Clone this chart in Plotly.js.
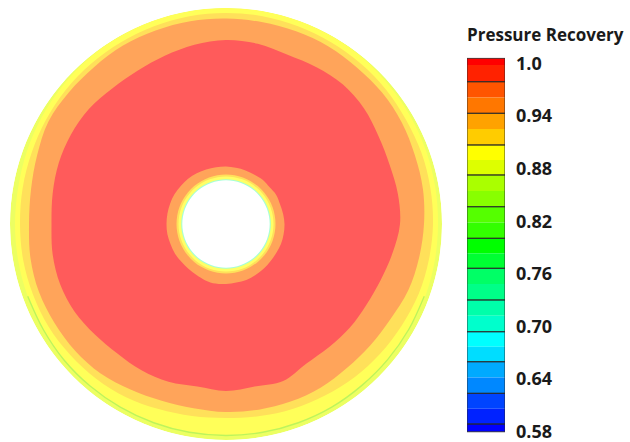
<!DOCTYPE html>
<html>
<head>
<meta charset="utf-8">
<script src="https://cdn.plot.ly/plotly-3.0.1.min.js"></script>
<style>html,body{margin:0;padding:0;background:#fff;}#chart{width:630px;height:442px;}</style>
</head>
<body>
<div id="chart"></div>
<script>
// ---- contour band boundaries on the annulus (angle in degrees, radius in px-units of outer radius 216)
const theta = [0,10,20,30,40,50,60,70,80,90,100,110,120,130,140,150,160,170,180,190,200,210,220,230,240,250,260,270,280,290,300,310,320,330,340,350];
const outerRadius = 216;
const yellowEdge = [212,212.5,213,213.5,214,215,215.5,216,216,216,216,216,215.5,215,214,213,212,211,211,211,211,211,211.5,212,212,212,212,212,212,212,212,211.5,211.5,211.5,212,212];
const goldEdge = [207,207.5,208,208,209,209.5,210,210.5,211,211,211,210.5,210,209.5,209,208,207,206.5,206,206,205.5,205,203.5,202,200,197,195,194,195,196.5,198,200,201.5,203,205,206];
const orangeEdge = [198,200,201,203,204,204,205,205,205,205.5,206,206,206,205,205,205,201,198,197,198.5,199,198,197,195,191,188,187,188,188.5,189,189,188,188.5,190,194,196];
const redEdge = [174,174.5,174,176,180,182,181,180,183,184,182,179,177,177,179,179,178,176,174.5,176,176.5,175,171.5,169,169,168,165,167,165,167,161,160.5,161.5,162,164.5,169];
const hubOrangeEdge = [58.5,58,57.5,58,57,57.5,57,57,57,57.5,57.5,58,58.5,59,59,59.5,59.5,59.5,59.5,59.5,59,59,58.5,58.5,59,60,60.5,60,59.5,59.5,59,58.5,58,58,58.5,58.5];
const hubGoldRadius = 49.5;
const hubYellowRadius = 47.5;
const hubCyanRadius = 44.8;
const holeRadius = 43.7;
const greenLineTheta = [200,210,220,230,240,250,260,270,280,290,300,310,320,330,340];
const greenLineR = [211,211,211.5,211.5,211.5,211.5,211.5,211.5,211.5,211.5,211.5,211,211,211,211];

// ---- colour bar
const cbEdges = [1.0057,0.9981,0.9790,0.9610,0.9430,0.9251,0.9069,0.8898,0.8727,0.8545,0.8365,0.8185,0.8005,0.7834,0.7663,0.7484,0.7302,0.7121,0.6940,0.6769,0.6598,0.6418,0.6238,0.6062,0.5888,0.5800];
const cbColors = ['#FF0000','#FF2200','#FF5500','#FF7700','#FFA200','#FFCC00','#FFFF00','#DDFF00','#AAFF00','#88FF00','#55FF00','#33FF00','#00FF00','#00FF33','#00FF66','#00FF88','#00FFAA','#00FFCC','#00FFFF','#00DDFF','#00AAFF','#0088FF','#0044FF','#0022FF','#0000FF'];
const cbBandEdges = [1.0057,0.9790,0.9430,0.9069,0.8727,0.8365,0.8005,0.7663,0.7302,0.6940,0.6598,0.6238,0.5888,0.5800];
const tickVals = [0.58,0.64,0.70,0.76,0.82,0.88,0.94,1.0];
const tickText = ['0.58','0.64','0.70','0.76','0.82','0.88','0.94','1.0'];

const closedTheta = theta.concat([360]);
function band(rArr, color) {
  return {
    type: 'scatterpolar', subplot: 'polar',
    r: rArr.concat([rArr[0]]), theta: closedTheta,
    mode: 'lines', fill: 'toself', fillcolor: color,
    line: {width: 0, color: color, shape: 'spline'},
    hoverinfo: 'skip', showlegend: false
  };
}
const constR = r => theta.map(() => r);

const traces = [
  band(constR(outerRadius), '#ECFF62'),
  band(yellowEdge, '#FFFF59'),
  {type:'scatterpolar', subplot:'polar', r: greenLineR, theta: greenLineTheta, mode:'lines',
   line:{color:'#BDF45C', width:1.4, shape:'spline'}, hoverinfo:'skip', showlegend:false},
  band(goldEdge, '#FFE05A'),
  band(orangeEdge, '#FFA45A'),
  band(redEdge, '#FF5B5B'),
  band(hubOrangeEdge, '#FFA45A'),
  band(constR(hubGoldRadius), '#FFE05A'),
  band(constR(hubYellowRadius), '#FFFF66'),
  band(constR(hubCyanRadius), '#A6FFD6'),
  band(constR(holeRadius), '#FFFFFF'),
  {type:'bar', xaxis:'x2', yaxis:'y2', x: cbColors.map(() => 0),
   base: cbEdges.slice(1), y: cbColors.map((c, i) => cbEdges[i] - cbEdges[i+1]),
   width: 1, marker:{color: cbColors, line:{width:0}}, hoverinfo:'skip', showlegend:false},
  {type:'bar', xaxis:'x2', yaxis:'y2', x: cbBandEdges.slice(1).map(() => 0),
   base: cbBandEdges.slice(1), y: cbBandEdges.slice(1).map((v, i) => cbBandEdges[i] - v),
   width: 1, marker:{color:'rgba(0,0,0,0)', line:{width:1, color:'rgba(40,40,40,0.85)'}},
   hoverinfo:'skip', showlegend:false}
];

const layout = {
  width: 630, height: 442,
  margin: {l:0, r:0, t:0, b:0},
  paper_bgcolor: '#FFFFFF', plot_bgcolor: 'rgba(0,0,0,0)',
  showlegend: false,
  barmode: 'overlay',
  polar: {
    domain: {x: [10/630, 442/630], y: [1 - 440/442, 1 - 8/442]},
    bgcolor: 'rgba(0,0,0,0)',
    radialaxis: {visible: false, range: [0, outerRadius]},
    angularaxis: {visible: false, rotation: 0, direction: 'counterclockwise'}
  },
  xaxis2: {domain: [467/630, 505/630], range: [-0.5, 0.5], visible: false, fixedrange: true, anchor: 'y2'},
  yaxis2: {domain: [1 - 433.5/442, 1 - 57.6/442], range: [0.578, 1.0065], anchor: 'x2', side: 'right',
    showgrid: false, zeroline: false, showline: false, ticks: '', tickvals: tickVals, ticktext: tickText,
    ticklabelstandoff: 10, ticklabeloverflow: 'allow',
    tickfont: {family: 'Open Sans, sans-serif', size: 18, color: '#1a1a1a', weight: 'bold'}, fixedrange: true},
  annotations: [{
    xref: 'paper', yref: 'paper', x: 465/630, y: 1 - 35/442, xanchor: 'left', yanchor: 'middle',
    text: 'Pressure Recovery', showarrow: false,
    font: {family: 'Open Sans, sans-serif', size: 17, color: '#1a1a1a', weight: 'bold'}
  }]
};

Plotly.newPlot('chart', traces, layout, {displayModeBar: false, staticPlot: true});
</script>
</body>
</html>
